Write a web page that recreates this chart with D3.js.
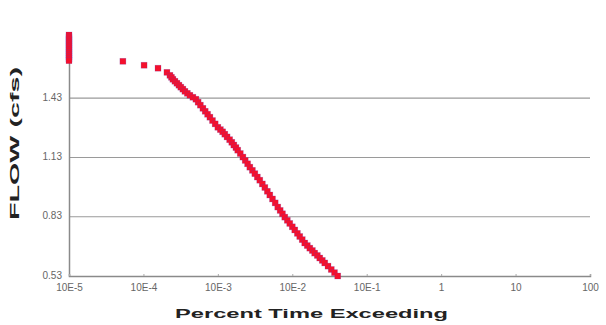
<!DOCTYPE html>
<html>
<head>
<meta charset="utf-8">
<script src="https://cdn.jsdelivr.net/npm/d3@7"></script>
<style>
  body { margin: 0; background: #fff; }
  text { font-family: "Liberation Sans", Arial, sans-serif; }
</style>
</head>
<body>
<div id="graph"></div>
<script>
const width = 606;
const height = 325;

// percent of time exceeded (log axis) and flow in cfs
const exceed = [
  1e-5, 1e-5, 1e-5, 1e-5, 1e-5, 1e-5, 1e-5, 1e-5, 1e-5, 1e-5, 1e-5, 1e-5, 1e-5, 1e-5,
  5.3e-5, 1.02e-4, 1.57e-4, 2.07e-4, 2.27e-4, 2.38e-4, 2.49e-4, 2.65e-4, 2.82e-4, 3.0e-4,
  3.18e-4, 3.39e-4, 3.61e-4, 3.89e-4, 4.21e-4, 4.62e-4, 5.07e-4, 5.43e-4, 5.82e-4, 6.30e-4,
  6.76e-4, 7.28e-4, 7.82e-4, 8.47e-4, 9.2e-4, 1.0e-3, 1.08e-3, 1.16e-3, 1.24e-3, 1.33e-3,
  1.44e-3, 1.54e-3, 1.64e-3, 1.75e-3, 1.85e-3, 2.0e-3, 2.17e-3, 2.33e-3, 2.51e-3, 2.69e-3,
  2.91e-3, 3.14e-3, 3.39e-3, 3.66e-3, 3.96e-3, 4.28e-3, 4.62e-3, 4.99e-3, 5.42e-3, 5.89e-3,
  6.38e-3, 6.87e-3, 7.38e-3, 7.93e-3, 8.57e-3, 9.25e-3, 1.0e-2, 1.08e-2, 1.17e-2, 1.26e-2,
  1.36e-2, 1.47e-2, 1.59e-2, 1.72e-2, 1.86e-2, 2.0e-2, 2.17e-2, 2.34e-2, 2.53e-2, 2.73e-2,
  3.02e-2, 3.34e-2, 3.69e-2, 4.08e-2
];
const flow = [
  1.75, 1.74, 1.73, 1.72, 1.71, 1.70, 1.69, 1.68, 1.67, 1.66, 1.65, 1.64, 1.63, 1.62,
  1.617, 1.597, 1.582, 1.561, 1.546, 1.536, 1.526, 1.516, 1.506, 1.496,
  1.486, 1.476, 1.465, 1.455, 1.445, 1.435, 1.425, 1.410, 1.395, 1.379,
  1.364, 1.349, 1.334, 1.317, 1.300, 1.283, 1.271, 1.260, 1.248, 1.234,
  1.220, 1.207, 1.193, 1.180, 1.167, 1.150, 1.132, 1.115, 1.098, 1.081,
  1.065, 1.048, 1.031, 1.015, 0.996, 0.978, 0.959, 0.940, 0.920, 0.900,
  0.879, 0.862, 0.845, 0.828, 0.812, 0.796, 0.779, 0.763, 0.746, 0.730,
  0.714, 0.697, 0.684, 0.671, 0.659, 0.646, 0.634, 0.621, 0.609, 0.596,
  0.580, 0.563, 0.547, 0.530
];

const xTicks = [1e-5, 1e-4, 1e-3, 1e-2, 1e-1, 1, 10, 100];
const xTickLabels = ["10E-5", "10E-4", "10E-3", "10E-2", "10E-1", "1", "10", "100"];
const yTicks = [0.53, 0.83, 1.13, 1.43];

const margin = {left: 69, right: 16, top: 35, bottom: 49};

const svg = d3.select("#graph")
  .append("svg")
  .attr("width", width)
  .attr("height", height)
  .style("background", "#fff");

const x = d3.scaleLog()
  .domain([1e-5, 100])
  .range([margin.left, width - margin.right]);

const y = d3.scaleLinear()
  .domain([0.53, 1.75])
  .range([height - margin.bottom, margin.top]);

// gridlines
svg.append("g")
  .selectAll("line")
  .data(yTicks.slice(1))
  .join("line")
  .attr("x1", x(1e-5))
  .attr("x2", x(100))
  .attr("y1", d => y(d))
  .attr("y2", d => y(d))
  .attr("stroke", "#9a9a9a")
  .attr("stroke-width", 1.2);

// y axis
const yAxis = svg.append("g")
  .attr("transform", `translate(${margin.left},0)`)
  .call(d3.axisLeft(y).tickValues(yTicks).tickFormat(d3.format(".2f")).tickSize(0).tickPadding(7));
yAxis.select(".domain").attr("stroke", "#8a8a8a").attr("stroke-width", 1.5);
yAxis.selectAll("text").attr("fill", "#666").style("font-size", "10px").attr("dy", "0.2em");

// x axis
const xAxis = svg.append("g")
  .attr("transform", `translate(0,${height - margin.bottom})`)
  .call(d3.axisBottom(x).tickValues(xTicks).tickFormat((d, i) => xTickLabels[i]).tickSize(-2).tickPadding(8));
xAxis.select(".domain").attr("stroke", "#8a8a8a").attr("stroke-width", 1.5);
xAxis.selectAll(".tick line").attr("stroke", "#aaa");
xAxis.selectAll("text").attr("fill", "#666").style("font-size", "10px");

// points
const points = exceed.map((e, i) => ({e: e, f: flow[i]}));
const s = 6;
svg.append("g")
  .selectAll("rect")
  .data(points)
  .join("rect")
  .attr("x", d => x(d.e) - s / 2)
  .attr("y", d => y(d.f) - s / 2)
  .attr("width", s)
  .attr("height", s)
  .attr("fill", "#f5102c")
  .attr("stroke", "#6a3cb0")
  .attr("stroke-opacity", 0.35)
  .attr("stroke-width", 0.6);

// axis titles, stretched wide like the original
svg.append("text")
  .attr("x", 175)
  .attr("y", 318)
  .attr("textLength", 273)
  .attr("lengthAdjust", "spacingAndGlyphs")
  .style("font-size", "13px")
  .style("font-weight", "bold")
  .attr("fill", "#222")
  .text("Percent Time Exceeding");

svg.append("text")
  .attr("transform", "translate(19,220) rotate(-90)")
  .attr("textLength", 153)
  .attr("lengthAdjust", "spacingAndGlyphs")
  .style("font-size", "13px")
  .style("font-weight", "bold")
  .attr("fill", "#222")
  .text("FLOW (cfs)");
</script>
</body>
</html>
